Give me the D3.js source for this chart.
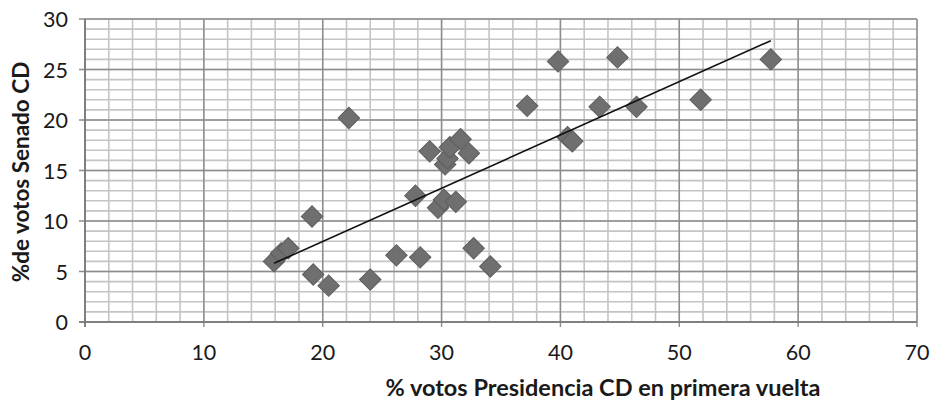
<!DOCTYPE html>
<html><head><meta charset="utf-8">
<script src="https://cdn.jsdelivr.net/npm/d3@7"></script>
<style>body{margin:0;background:#fff}svg{display:block}</style>
</head><body>
<svg id="c" width="931" height="403"></svg>
<script>
const xValues = [15.9,16.5,17.1,19.1,19.2,20.5,22.2,24.0,26.2,27.8,28.2,29.0,29.7,30.2,30.3,30.5,30.7,31.2,31.6,32.3,32.7,34.1,37.2,39.8,40.6,41.0,43.3,44.8,46.4,51.8,57.7];
const yValues = [6.0,6.8,7.3,10.45,4.7,3.6,20.2,4.2,6.6,12.5,6.4,16.9,11.3,12.1,15.6,16.2,17.3,11.9,18.1,16.7,7.3,5.5,21.4,25.8,18.3,17.9,21.3,26.2,21.3,22.0,26.0];
const xTicks = [0,10,20,30,40,50,60,70];
const yTicks = [0,5,10,15,20,25,30];
const xTitle = "% votos Presidencia CD en primera vuelta";
const yTitle = "%de votos Senado CD";

const svg = d3.select("#c");
const L = 85, R = 917, T = 19, B = 322;
const x = d3.scaleLinear().domain([0,70]).range([L,R]);
const y = d3.scaleLinear().domain([0,30]).range([B,T]);
const font = "Lato, 'Open Sans', sans-serif";

// minor grid
const g = svg.append("g");
g.selectAll(".mx").data(d3.range(0,71,2)).join("line")
  .attr("x1",d=>x(d)).attr("x2",d=>x(d)).attr("y1",T).attr("y2",B)
  .attr("stroke","#c4c4c4").attr("stroke-width",1.6);
g.selectAll(".my").data(d3.range(0,31,1)).join("line")
  .attr("x1",L).attr("x2",R).attr("y1",d=>y(d)).attr("y2",d=>y(d))
  .attr("stroke","#c4c4c4").attr("stroke-width",1.6);
// major grid
g.selectAll(".Mx").data(xTicks).join("line")
  .attr("x1",d=>x(d)).attr("x2",d=>x(d)).attr("y1",T).attr("y2",B+5)
  .attr("stroke","#8c8c8c").attr("stroke-width",1.4);
g.selectAll(".My").data(yTicks).join("line")
  .attr("x1",L-6).attr("x2",R).attr("y1",d=>y(d)).attr("y2",d=>y(d))
  .attr("stroke","#8c8c8c").attr("stroke-width",1.4);
// axes lines
svg.append("line").attr("x1",L).attr("x2",L).attr("y1",T).attr("y2",B+5).attr("stroke","#777").attr("stroke-width",1.6);
svg.append("line").attr("x1",L-6).attr("x2",R).attr("y1",B).attr("y2",B).attr("stroke","#777").attr("stroke-width",1.6);

// tick labels
svg.selectAll(".xl").data(xTicks).join("text")
  .attr("x",d=>x(d)).attr("y",360).attr("text-anchor","middle")
  .attr("font-family",font).attr("font-size",21.5).attr("fill","#1a1a1a").text(d=>d);
svg.selectAll(".yl").data(yTicks).join("text")
  .attr("x",68).attr("y",d=>y(d)+8).attr("text-anchor","end")
  .attr("font-family",font).attr("font-size",21.5).attr("fill","#1a1a1a").text(d=>d);

// titles
svg.append("text").attr("x",603).attr("y",396).attr("text-anchor","middle")
  .attr("font-family",font).attr("font-weight","bold").attr("font-size",23.5).attr("fill","#1a1a1a").text(xTitle);
svg.append("text").attr("transform","translate(29,172) rotate(-90)").attr("text-anchor","middle")
  .attr("font-family",font).attr("font-weight","bold").attr("font-size",22.5).attr("fill","#1a1a1a").text(yTitle);

// points
const pts = xValues.map((v,i)=>({x:v,y:yValues[i]}));
const sym = d3.symbol().type(d3.symbolSquare).size(230);
svg.selectAll(".p").data(pts).join("path")
  .attr("d",sym)
  .attr("transform",d=>`translate(${x(d.x)},${y(d.y)}) rotate(45)`)
  .attr("fill","#6f6f6f").attr("stroke","#5e5e5e").attr("stroke-width",1);

// trend line (least squares)
const mx = d3.mean(xValues), my = d3.mean(yValues);
const slope = d3.sum(pts,d=>(d.x-mx)*(d.y-my))/d3.sum(pts,d=>(d.x-mx)**2);
const icpt = my - slope*mx;
const [x0,x1] = d3.extent(xValues);
svg.append("line").attr("x1",x(x0)).attr("y1",y(icpt+slope*x0))
  .attr("x2",x(x1)).attr("y2",y(icpt+slope*x1))
  .attr("stroke","#111").attr("stroke-width",1.6);
</script>
</body></html>
